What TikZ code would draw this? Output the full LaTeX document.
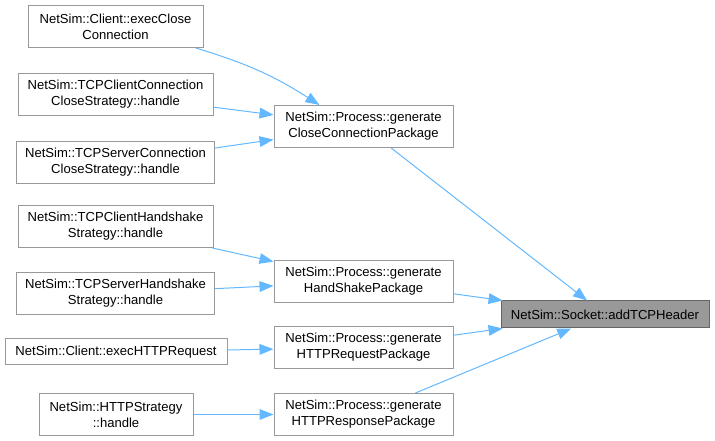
\documentclass[tikz,border=0pt]{standalone}
\usepackage{fontspec}
\setmainfont{Liberation Sans}
\usetikzlibrary{arrows.meta,positioning}
\definecolor{edgeblue}{HTML}{63B8FF}
\definecolor{boxgray}{HTML}{999999}
\definecolor{boxdark}{HTML}{666666}

\begin{document}
\begin{tikzpicture}[x=0.75pt,y=-0.75pt,
  font=\fontsize{9.8}{12}\selectfont,
  fn/.style={draw=boxgray, fill=white, line width=0.75pt, align=center, inner sep=2pt, minimum height=31.5pt},
  cur/.style={draw=boxdark, fill=boxgray, line width=0.75pt, inner sep=2pt, minimum height=20.25pt},
  call/.style={draw=edgeblue, line width=0.75pt, -{Triangle[length=10.5pt,width=8pt]}}]
  \useasboundingbox (0,0) rectangle (715,441);
  \node[fn, minimum width=131.25pt] (l1) at (115.5,26.5) {NetSim::Client::execClose\\Connection};
  \node[fn, minimum width=146.25pt, below=18.75pt of l1] (l2) {NetSim::TCPClientConnection\\CloseStrategy::handle};
  \node[fn, minimum width=148.5pt, below=18.75pt of l2] (l3) {NetSim::TCPServerConnection\\CloseStrategy::handle};
  \node[fn, minimum width=146.25pt] (l4) at (115.5,226.5) {NetSim::TCPClientHandshake\\Strategy::handle};
  \node[fn, minimum width=148.5pt, below=18pt of l4] (l5) {NetSim::TCPServerHandshake\\Strategy::handle};
  \node[fn, minimum width=166.5pt, minimum height=19.5pt] (l6) at (116,352) {NetSim::Client::execHTTPRequest};
  \node[fn, minimum width=115.5pt] (l7) at (116,414.5) {NetSim::HTTPStrategy\\::handle};
  \node[fn, minimum width=134.25pt] (m1) at (363.5,126.5) {NetSim::Process::generate\\CloseConnectionPackage};
  \node[fn, minimum width=134.25pt] (m2) at (363.5,281.5) {NetSim::Process::generate\\HandShakePackage};
  \node[fn, minimum width=134.25pt] (m3) at (363.5,347.5) {NetSim::Process::generate\\HTTPRequestPackage};
  \node[fn, minimum width=134.25pt] (m4) at (363.5,414.5) {NetSim::Process::generate\\HTTPResponsePackage};
  \node[cur, minimum width=156pt] (r) at (605,314.5) {NetSim::Socket::addTCPHeader};
  \draw[call] (l1.-15) to[bend left=8] (m1.154);
  \draw[call] (l2) -- (m1);
  \draw[call] (l3) -- (m1);
  \draw[call] (l4) -- (m2);
  \draw[call] (l5) -- (m2);
  \draw[call] (l6) -- (m3);
  \draw[call] (l7) -- (m4);
  \draw[call] (m1) -- (r);
  \draw[call] (m2) -- (r);
  \draw[call] (m3) -- (r);
  \draw[call] (m4) -- (r);
\end{tikzpicture}
\end{document}
